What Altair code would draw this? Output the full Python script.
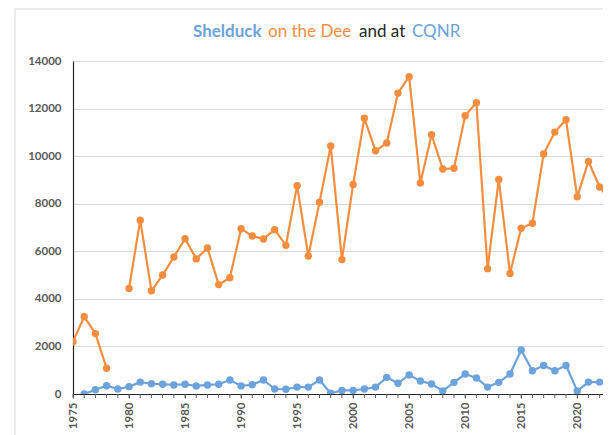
import altair as alt
import pandas as pd

years = list(range(1975, 2024))
dee = [2200, 3250, 2540, 1080, None, 4440, 7310, 4340, 5000, 5760,
       6530, 5680, 6140, 4600, 4890, 6950, 6640, 6520, 6910, 6250,
       8760, 5800, 8060, 10430, 5650, 8810, 11590, 10230, 10550, 12650,
       13340, 8870, 10900, 9460, 9490, 11700, 12250, 5270, 9020, 5070,
       6970, 7180, 10090, 11010, 11530, 8290, 9780, 8700, 8100]
cqnr = [None, 0, 180, 350, 210, 310, 500, 430, 410, 380,
        410, 340, 380, 410, 590, 340, 390, 590, 210, 200,
        290, 290, 590, 30, 150, 150, 210, 290, 700, 450,
        800, 550, 420, 130, 490, 840, 670, 290, 490, 840,
        1850, 980, 1200, 980, 1200, 130, 500, 500, 520]
series_names = ["Dee", "CQNR"]
series_colors = ["#F58D3F", "#6CA3DB"]
y_ticks = [0, 2000, 4000, 6000, 8000, 10000, 12000, 14000]
x_label_ticks = [1975, 1980, 1985, 1990, 1995, 2000, 2005, 2010, 2015, 2020]
minor_years = list(range(1975, 2023))

rows = []
for yr, v in zip(years, dee):
    if v is not None:
        rows.append({"year": yr, "value": v, "series": "Dee", "seg": "Dee-a" if yr < 1979 else "Dee-b"})
for yr, v in zip(years, cqnr):
    if v is not None:
        rows.append({"year": yr, "value": v, "series": "CQNR", "seg": "CQNR"})
df = pd.DataFrame(rows)
minor_df = pd.DataFrame({"year": minor_years})

W, H = 530, 333
x_scale = alt.Scale(domain=[1975, 2022.3], nice=False, zero=False)
y_scale = alt.Scale(domain=[0, 14000], nice=False)
color_scale = alt.Scale(domain=series_names, range=series_colors)

x_enc = alt.X("year:Q", scale=x_scale, axis=alt.Axis(
    values=x_label_ticks, format="d",
    labelAngle=-90, labelAlign="right", labelBaseline="middle",
    labelFont="Lato", labelFontWeight="bold", labelFontSize=11.5, labelColor="#595959",
    labelPadding=4, labelOverlap=False, labelFlush=False,
    domainColor="#262626", domainWidth=1.2, tickColor="#595959", tickSize=4,
    grid=False, title=None))
y_enc = alt.Y("value:Q", scale=y_scale, axis=alt.Axis(
    values=y_ticks, format="d",
    labelFont="Lato", labelFontWeight="bold", labelFontSize=11.5, labelColor="#595959",
    labelPadding=12, ticks=False, domainColor="#262626", domainWidth=1.2,
    grid=True, gridColor="#D9D9D9", gridWidth=1, title=None))

base = alt.Chart(df)
lines = base.mark_line(strokeWidth=2.2, clip=True).encode(
    x=x_enc, y=y_enc,
    color=alt.Color("series:N", scale=color_scale, legend=None),
    detail="seg:N")
points = base.mark_circle(size=55, opacity=1, clip=True).encode(
    x="year:Q", y="value:Q",
    color=alt.Color("series:N", scale=color_scale, legend=None))

minor_ticks = alt.Chart(minor_df).mark_rule(color="#595959", strokeWidth=1).encode(
    x="year:Q", y=alt.value(H), y2=alt.value(H + 4))

frame = alt.Chart(pd.DataFrame({"a": [0]})).mark_rect(
    fillOpacity=0, stroke="#D9D9D9", strokeWidth=1).encode(
    x=alt.value(-58), x2=alt.value(800), y=alt.value(-52), y2=alt.value(600))

def title_part(txt, x, color, bold=False):
    return alt.Chart(pd.DataFrame({"a": [0]})).mark_text(
        text=txt, align="left", baseline="alphabetic", font="Lato",
        fontSize=17, fontWeight="bold" if bold else "normal", color=color).encode(
        x=alt.value(x), y=alt.value(-24))

title = (title_part("Shelduck", 120, "#6CA3DB", True)
         + title_part("on the Dee", 195, "#F58D3F")
         + title_part("and at", 286, "#262626")
         + title_part("CQNR", 339, "#6CA3DB"))

chart = alt.layer(frame, minor_ticks, lines, points, title).properties(
    width=W, height=H,
    autosize=alt.AutoSizeParams(type="none"),
    padding={"left": 65, "top": 53, "right": 0, "bottom": 41},
    background="white",
).configure_view(stroke=None)

chart.save("out.html", embed_options={"renderer": "svg", "actions": False})
